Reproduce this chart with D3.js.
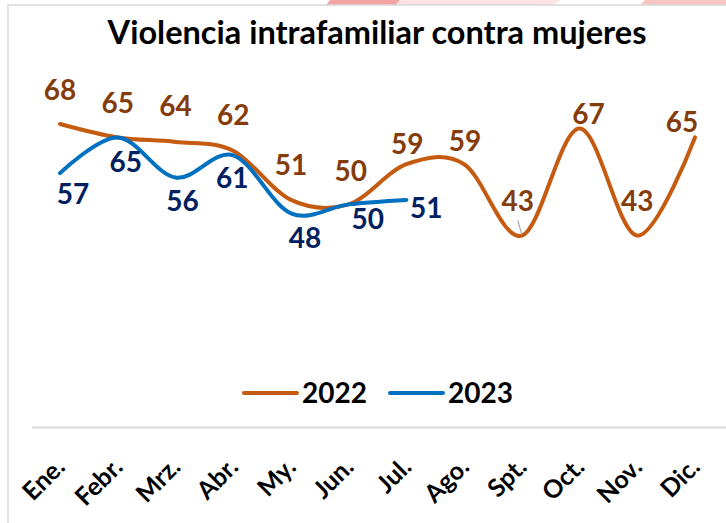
<!DOCTYPE html>
<html>
<head>
  <meta charset="utf-8">
  <script src="https://d3js.org/d3.v7.min.js"></script>
  <style>
    body { margin: 0; background: #fff; }
    svg { display: block; }
  </style>
</head>
<body>
<script>
  // chart data
  var months = ["Ene.", "Febr.", "Mrz.", "Abr.", "My.", "Jun.", "Jul.",
                "Ago.", "Spt.", "Oct.", "Nov.", "Dic."];
  var values2022 = [68, 65, 64, 62, 51, 50, 59, 59, 43, 67, 43, 65];
  var values2023 = [57, 65, 56, 61, 48, 50, 51];
  var seriesNames = ["2022", "2023"];

  // label nudges (moved by hand in the original)
  var nudge2022 = [[0, -34], [0, -35], [0, -36], [0, -36], [0, -35], [2, -33],
                   [1, -20], [1, -23], [-4, -35], [9, -15], [0, -35], [-13, -16]];
  var nudge2023 = [[13, 21], [8, 24], [7, 23], [-1, 23], [14, 25], [19, 15], [20, 8]];

  var W = 726, H = 523;
  var svg = d3.select("body").append("svg")
    .attr("width", W)
    .attr("height", H);

  // bits of the slide behind the chart, top edge
  svg.append("polygon")
    .attr("points", "330,0 400,0 396,5 326,5")
    .style("fill", "#f4a3a3");
  svg.append("polygon")
    .attr("points", "400,0 560,0 553,5 396,5")
    .style("fill", "#fde3e3");
  svg.append("polygon")
    .attr("points", "645,0 726,0 726,5 640,5")
    .style("fill", "#f9c4c4");

  // chart frame
  svg.append("path")
    .attr("d", "M8,523 V5 H726")
    .style("fill", "none")
    .style("stroke", "#d9d9d9")
    .style("stroke-width", 1.5);

  var x = d3.scalePoint().domain(months).range([60, 695]);
  var y = d3.scaleLinear().domain([0, 80]).range([427.5, 70.5]);

  // title
  svg.append("text")
    .attr("x", 377)
    .attr("y", 44)
    .attr("text-anchor", "middle")
    .style("font-family", "Lato, sans-serif")
    .style("font-weight", "bold")
    .style("font-size", "32.5px")
    .style("fill", "#000")
    .text("Violencia intrafamiliar contra mujeres");

  // category axis
  var xAxis = d3.axisBottom(x).tickSize(0).tickPadding(0);
  var gx = svg.append("g")
    .attr("transform", "translate(0," + y(0) + ")")
    .call(xAxis);
  gx.select(".domain").remove();
  gx.append("line")
    .attr("x1", 32).attr("x2", W)
    .style("stroke", "#d9d9d9")
    .style("stroke-width", 2);
  gx.selectAll(".tick text")
    .attr("text-anchor", "end")
    .attr("y", 0)
    .attr("dy", 0)
    .attr("transform", "translate(6,41) rotate(-45)")
    .style("font-family", "Lato, sans-serif")
    .style("font-weight", "bold")
    .style("font-size", "25px")
    .style("fill", "#000");

  var line = d3.line()
    .x(function (d, i) { return x(months[i]); })
    .y(function (d) { return y(d); })
    .curve(d3.curveCatmullRom.alpha(0));

  svg.append("path")
    .datum(values2022)
    .attr("d", line)
    .style("fill", "none")
    .style("stroke", "#c55a11")
    .style("stroke-width", 4)
    .style("stroke-linecap", "round");

  svg.append("path")
    .datum(values2023)
    .attr("d", line)
    .style("fill", "none")
    .style("stroke", "#0070c0")
    .style("stroke-width", 4)
    .style("stroke-linecap", "round");

  // leader line for the Spt. label
  var spt = months.indexOf("Spt.");
  svg.append("line")
    .attr("x1", x(months[spt]) - 4)
    .attr("y1", y(values2022[spt]) - 15)
    .attr("x2", x(months[spt]))
    .attr("y2", y(values2022[spt]) - 1)
    .style("stroke", "#a6a6a6")
    .style("stroke-width", 1.2);

  function labels(vals, nudge, color) {
    svg.append("g").selectAll("text")
      .data(vals)
      .enter()
      .append("text")
        .attr("x", function (d, i) { return x(months[i]) + nudge[i][0]; })
        .attr("y", function (d, i) { return y(d) + nudge[i][1]; })
        .attr("dy", "0.36em")
        .attr("text-anchor", "middle")
        .style("font-family", "Lato, sans-serif")
        .style("font-weight", "bold")
        .style("font-size", "28px")
        .style("fill", color)
        .text(function (d) { return d; });
  }
  labels(values2022, nudge2022, "#843c0c");
  labels(values2023, nudge2023, "#002060");

  // legend
  var legendColors = ["#c55a11", "#0070c0"];
  var leg = svg.append("g").selectAll("g")
    .data(seriesNames)
    .enter()
    .append("g")
      .attr("transform", function (d, i) { return "translate(" + (244 + i * 146) + ",393)"; });
  leg.append("line")
    .attr("x1", 0).attr("x2", 53)
    .style("stroke", function (d, i) { return legendColors[i]; })
    .style("stroke-width", 4)
    .style("stroke-linecap", "round");
  leg.append("text")
    .attr("x", 58)
    .attr("dy", "0.36em")
    .style("font-family", "Lato, sans-serif")
    .style("font-weight", "bold")
    .style("font-size", "28px")
    .style("fill", "#000")
    .text(function (d) { return d; });
</script>
</body>
</html>
